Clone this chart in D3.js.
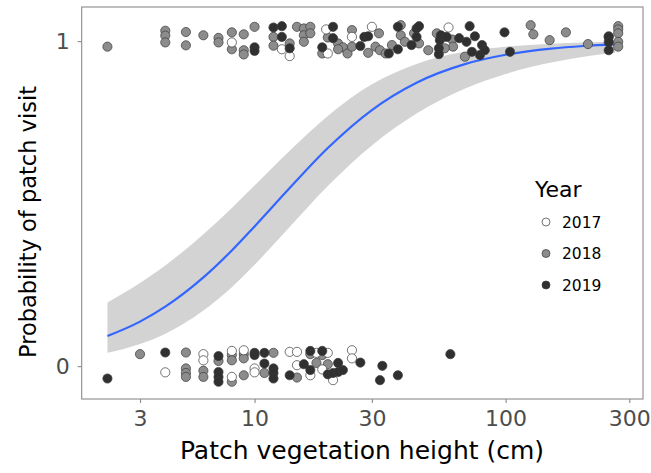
<!DOCTYPE html>
<html>
<head>
<meta charset="utf-8">
<script src="https://cdn.jsdelivr.net/npm/d3@7"></script>
<style>
  html, body { margin: 0; padding: 0; background: #fff; }
  svg { display: block; font-family: "DejaVu Sans", sans-serif; }
</style>
</head>
<body>
<svg id="chart" width="651" height="473"></svg>
<script>
// ---- data ----
const xTicks = [3, 10, 30, 100, 300];
const yTicks = [0, 1];
const years = ["2017", "2018", "2019"];

// fitted curve and confidence band (vegetation height cm, probability)
const fitX  = [2, 3, 4, 6, 8, 10, 14, 20, 30, 45, 70, 100, 150, 200, 265];
const fitP  = [0.0925, 0.137, 0.183, 0.273, 0.356, 0.430, 0.548, 0.671, 0.788, 0.872, 0.930, 0.958, 0.977, 0.985, 0.990];
const fitLo = [0.041, 0.068, 0.100, 0.171, 0.243, 0.312, 0.428, 0.554, 0.679, 0.777, 0.855, 0.899, 0.934, 0.952, 0.964];
const fitHi = [0.196, 0.256, 0.310, 0.406, 0.487, 0.556, 0.663, 0.770, 0.867, 0.930, 0.968, 0.983, 0.992, 0.996, 0.997];

// jittered observations [height cm, jittered visit value]
const obs2018 = [
  [2.0,0.983],[4.0,1.032],[4.0,1.017],[4.0,0.996],[5.0,1.028],[5.0,0.987],[6.0,1.018],
  [7.0,1.010],[7.0,0.996],[8.0,1.027],[8.0,0.975],[9.0,1.021],[9.0,0.972],[9.0,0.959],
  [10,1.044],[12,1.013],[12,0.986],[14,0.993],[15,1.044],[16,1.039],[17,1.044],[16,1.018],
  [17,1.024],[16,0.998],[19,0.962],[20,1.011],[22,0.993],[23,0.981],[22,0.975],[24,0.962],
  [25,1.034],[25,0.983],[32,1.024],[29,0.964],[31,0.983],[32.3,0.972],[34,0.962],[36,0.988],
  [39,1.049],[39,1.018],[40.5,0.998],[44,1.024],[46,0.993],[50,0.972],[54,1.024],[62,1.005],
  [62.5,0.983],[58,0.978],[69.5,0.952],[125,1.049],[128,1.021],[148,1.003],[171,1.027],[208,0.991],
  [272,1.046],[272,1.036],[272,1.024],[272,0.998],[272,0.983],
  [3.0,0.037],[5.0,0.042],[5.0,-0.007],[5.0,-0.021],[5.0,-0.033],[6.0,-0.014],[6.0,-0.033],
  [7.0,0.016],[8.0,0.034],[8.0,0.018],[8.0,-0.048],[9.0,0.037],[9.0,0.024],[9.0,-0.028],
  [11,-0.021],[12,0.041],[15,-0.035],[17,0.037],[19,0.034],[18,0.010],[20,0.006]
];
const obs2017 = [
  [8.0,0.996],[13,0.975],[14,0.954],[20,0.962],[19.7,1.036],[25,1.013],[30,1.044],[60,1.042],
  [4.0,-0.019],[6.0,0.037],[6.0,0.018],[8.0,0.047],[8.0,-0.033],[9.0,0.049],[10,-0.007],
  [10,-0.019],[14,0.044],[15,0.044],[15,0.003],[18,0.041],[17,-0.028],[19,-0.010],[20,0.041],
  [21,-0.043],[25,0.049],[25,0.024]
];
const obs2019 = [
  [10,0.981],[10,0.970],[12,1.042],[13,1.046],[13,1.013],[14,0.978],[21,1.044],[21,1.009],
  [19,0.981],[27,0.985],[28,1.013],[29,1.015],[35,0.962],[38,0.975],[38,1.044],[43,0.988],
  [45,1.039],[46,1.046],[45,1.013],[55.5,1.003],[56,1.018],[55,0.978],[55,0.960],[59,1.013],
  [66,1.009],[72.5,1.046],[76,1.015],[70.5,0.998],[81,0.988],[74,0.967],[79.5,0.957],[83,0.972],
  [99,1.027],[104,0.967],[250,1.015],[250,1.012],[250,0.997],[250,0.972],
  [2.0,-0.038],[4.0,0.042],[7.0,0.031],[7.0,-0.018],[7.0,-0.033],[7.0,-0.048],[10,0.041],
  [10,0.034],[11,0.041],[11,0.008],[12,-0.007],[12,-0.021],[12,-0.038],[14,-0.028],[17,0.047],
  [19,0.047],[16,0.006],[17,-0.012],[20,-0.025],[21,-0.021],[22,0.010],[22,-0.018],[23,-0.012],
  [27,0.011],[33,0.001],[32.3,-0.043],[38,-0.028],[61,0.037]
];

// ---- drawing ----
const svg = d3.select("#chart");
const P = { left: 81.7, right: 643, top: 7, bottom: 399 };

const x = d3.scaleSymlog().constant(1).domain([1.39, 338.8]).range([P.left, P.right]);
const y = d3.scaleLinear().domain([-0.101, 1.105]).range([P.bottom, P.top]);
const fill = d3.scaleOrdinal().domain(years).range(["#ffffff", "#8c8c8c", "#303030"]);

const band = fitX.map((d, i) => ({ x: d, p: fitP[i], lo: fitLo[i], hi: fitHi[i] }));

svg.append("path")
  .datum(band)
  .attr("fill", "#d3d3d3")
  .attr("d", d3.area().curve(d3.curveMonotoneX)
    .x(d => x(d.x)).y0(d => y(d.lo)).y1(d => y(d.hi)));

svg.append("path")
  .datum(band)
  .attr("fill", "none")
  .attr("stroke", "#3366ff")
  .attr("stroke-width", 2.2)
  .attr("d", d3.line().curve(d3.curveMonotoneX).x(d => x(d.x)).y(d => y(d.p)));

const pts = [].concat(
  obs2018.map(d => ({ x: d[0], y: d[1], yr: "2018" })),
  obs2017.map(d => ({ x: d[0], y: d[1], yr: "2017" })),
  obs2019.map(d => ({ x: d[0], y: d[1], yr: "2019" }))
);

svg.append("g").selectAll("circle")
  .data(pts).join("circle")
  .attr("cx", d => x(d.x))
  .attr("cy", d => y(d.y))
  .attr("r", 4.6)
  .attr("fill", d => fill(d.yr))
  .attr("stroke", "#3a3a3a")
  .attr("stroke-width", 0.7);

// panel border
svg.append("rect")
  .attr("x", P.left).attr("y", P.top)
  .attr("width", P.right - P.left).attr("height", P.bottom - P.top)
  .attr("fill", "none").attr("stroke", "#8a8a8a").attr("stroke-width", 1.1);

// axes
const xAxis = svg.append("g")
  .attr("transform", `translate(0,${P.bottom})`)
  .call(d3.axisBottom(x).tickValues(xTicks).tickFormat(d3.format("d")).tickSize(4).tickPadding(7));
const yAxis = svg.append("g")
  .attr("transform", `translate(${P.left},0)`)
  .call(d3.axisLeft(y).tickValues(yTicks).tickFormat(d3.format("d")).tickSize(4).tickPadding(8));
[xAxis, yAxis].forEach(g => {
  g.select(".domain").remove();
  g.selectAll(".tick line").attr("stroke", "#8a8a8a").attr("stroke-width", 1.1);
  g.selectAll(".tick text").attr("fill", "#4d4d4d").style("font-size", "22px")
    .style("font-family", "DejaVu Sans, sans-serif");
});

// axis titles
svg.append("text")
  .attr("x", 362).attr("y", 459)
  .attr("text-anchor", "middle")
  .style("font-size", "25px").attr("fill", "#000")
  .text("Patch vegetation height (cm)");
svg.append("text")
  .attr("transform", `translate(36,222) rotate(-90)`)
  .attr("text-anchor", "middle")
  .style("font-size", "22.5px").attr("fill", "#000")
  .text("Probability of patch visit");

// legend
const lg = svg.append("g").attr("transform", "translate(535,0)");
lg.append("text").attr("x", 0).attr("y", 197)
  .style("font-size", "22px").attr("fill", "#000").text("Year");
years.forEach((yr, i) => {
  const cy = 222 + i * 31.5;
  lg.append("circle").attr("cx", 11).attr("cy", cy).attr("r", 4)
    .attr("fill", fill(yr)).attr("stroke", "#3a3a3a").attr("stroke-width", 0.7);
  lg.append("text").attr("x", 27).attr("y", cy + 5.5)
    .style("font-size", "15.5px").attr("fill", "#000").text(yr);
});
</script>
</body>
</html>
